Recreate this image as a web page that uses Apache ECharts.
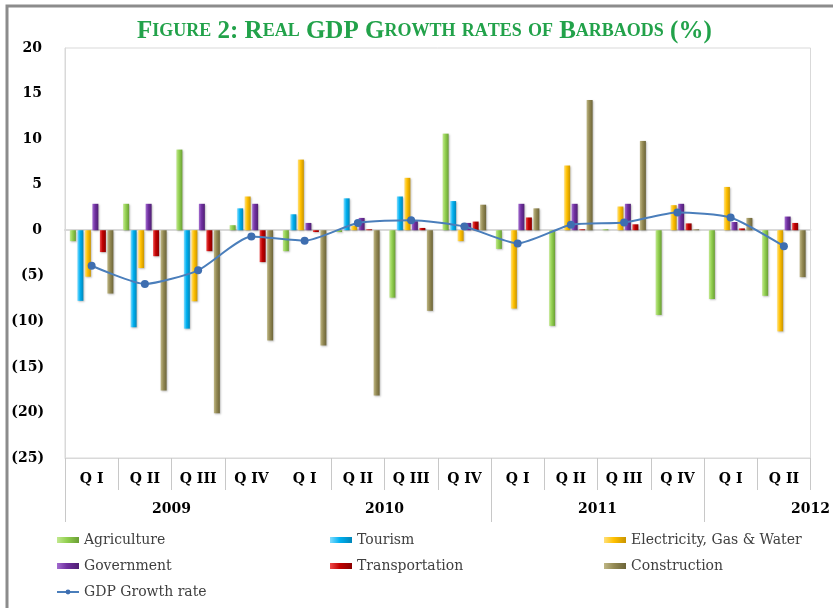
<!DOCTYPE html>
<html>
<head>
<meta charset="utf-8">
<script src="https://cdn.jsdelivr.net/npm/echarts@6/dist/echarts.min.js"></script>
<style>
html,body{margin:0;padding:0;background:#fff;}
#main{width:833px;height:608px;}
</style>
</head>
<body>
<div id="main"></div>
<script>
// 数据
var quarters = ['Q I', 'Q II', 'Q III', 'Q IV', 'Q I', 'Q II', 'Q III', 'Q IV', 'Q I', 'Q II', 'Q III', 'Q IV', 'Q I', 'Q II'];
var years = ['2009', '2010', '2011', '2012'];
var yTicks = [20, 15, 10, 5, 0, -5, -10, -15, -20, -25];

var agriculture = [-1.2, 2.9, 8.85, 0.55, -2.3, -0.2, -7.4, 10.6, -2.05, -10.5, 0.1, -9.3, -7.55, -7.2];
var tourism = [-7.75, -10.65, -10.8, 2.4, 1.75, 3.5, 3.7, 3.2, 0, 0, 0, 0, 0, 0];
var electricity = [-5.1, -4.15, -7.8, 3.7, 7.75, 0.5, 5.75, -1.2, -8.6, 7.1, 2.6, 2.75, 4.75, -11.1];
var government = [2.9, 2.9, 2.9, 2.9, 0.8, 1.35, 1.0, 0.8, 2.9, 2.9, 2.9, 2.9, 0.9, 1.5];
var transportation = [-2.4, -2.85, -2.3, -3.5, -0.2, 0.1, 0.25, 0.95, 1.4, 0.1, 0.65, 0.75, 0.2, 0.8];
var construction = [-6.95, -17.6, -20.1, -12.1, -12.65, -18.15, -8.85, 2.8, 2.4, 14.3, 9.8, 0.1, 1.35, -5.15];
var gdp = [-3.9, -5.9, -4.4, -0.7, -1.15, 0.8, 1.1, 0.4, -1.45, 0.6, 0.85, 1.95, 1.4, -1.75];

(function(){
    var myChart = echarts.init(document.getElementById('main'));

    // 边界轴：15个季度边界点，年份标签放在每年中间
    var yearAxis = [];
    for (var i = 0; i <= quarters.length; i++) {
        yearAxis.push(i % 4 === 2 ? years[(i - 2) / 4] : '');
    }

    // 标题的小型大写字母
    var titleText = 'Figure 2: Real GDP Growth rates of Barbaods (%)';
    var titleRich = '';
    for (var k = 0; k < titleText.length; k++) {
        var c = titleText[k];
        if (c >= 'a' && c <= 'z') {
            titleRich += '{s|' + c.toUpperCase() + '}';
        } else {
            titleRich += '{b|' + c + '}';
        }
    }

    // 柱子渐变，模拟立体效果
    function barColor(light, mid, dark) {
        return new echarts.graphic.LinearGradient(0, 0, 1, 0, [
            { offset: 0, color: light },
            { offset: 0.45, color: mid },
            { offset: 1, color: dark }
        ]);
    }

    function barSeries(name, data, light, mid, dark) {
        return {
            name: name,
            type: 'bar',
            data: data,
            barWidth: 6,
            barGap: '25%',
            itemStyle: {
                color: barColor(light, mid, dark),
                shadowColor: 'rgba(0,0,0,0.25)',
                shadowBlur: 2,
                shadowOffsetX: 1,
                shadowOffsetY: 1
            }
        };
    }

    var serif = 'DejaVu Serif';
    var labelFont = {
        fontFamily: serif,
        fontWeight: 'bold',
        fontSize: 14,
        color: '#000'
    };
    var legendText = {
        fontFamily: serif,
        fontSize: 14,
        color: '#404040'
    };

    function legendCol(left, names) {
        return {
            orient: 'vertical',
            left: left,
            top: 533,
            padding: 0,
            itemWidth: 22,
            itemHeight: 6,
            itemGap: 12,
            textStyle: legendText,
            data: names
        };
    }

    var option = {
        animation: false,
        graphic: [
            {
                type: 'rect',
                shape: { x: 7, y: 6, width: 900, height: 700 },
                style: { fill: 'none', stroke: '#8c8c8c', lineWidth: 3 },
                silent: true
            },
            {
                type: 'text',
                left: 137,
                top: 19,
                style: {
                    text: titleRich,
                    rich: {
                        b: { fontFamily: 'Liberation Serif', fontWeight: 'bold', fontSize: 25, fill: '#22a24a' },
                        s: { fontFamily: 'Liberation Serif', fontWeight: 'bold', fontSize: 18, fill: '#22a24a' }
                    }
                }
            }
        ],
        legend: [
            legendCol(56, [
                { name: 'Agriculture', icon: 'rect' },
                { name: 'Government', icon: 'rect' },
                { name: 'GDP Growth rate' }
            ]),
            legendCol(330, [
                { name: 'Tourism', icon: 'rect' },
                { name: 'Transportation', icon: 'rect' }
            ]),
            legendCol(604, [
                { name: 'Electricity, Gas & Water', icon: 'rect' },
                { name: 'Construction', icon: 'rect' }
            ])
        ],
        grid: {
            left: 65,
            right: 15,
            top: 48,
            bottom: 150,
            show: true,
            borderColor: '#d9d9d9',
            borderWidth: 1
        },
        xAxis: [
            {
                // 季度标签
                type: 'category',
                data: quarters,
                position: 'bottom',
                axisLine: { onZero: false, lineStyle: { color: '#d9d9d9' } },
                axisTick: { show: false },
                axisLabel: Object.assign({ interval: 0, margin: 14 }, labelFont)
            },
            {
                // 年份标签
                type: 'category',
                data: yearAxis,
                boundaryGap: false,
                position: 'bottom',
                offset: 32,
                axisLine: { show: false, onZero: false },
                axisTick: {
                    length: 32,
                    interval: function (index) { return index === 0 || index === 8 || index === 12; },
                    lineStyle: { color: '#c8c8c8' }
                },
                axisLabel: Object.assign({
                    interval: function (index) { return index % 4 === 2; },
                    margin: 12
                }, labelFont)
            },
            {
                // 零线
                type: 'category',
                data: quarters,
                position: 'bottom',
                axisLine: { onZero: true, lineStyle: { color: '#d9d9d9', width: 2 } },
                axisTick: { length: 4, lineStyle: { color: '#bfbfbf' } },
                axisLabel: { show: false }
            },
            {
                // 季度分隔线
                type: 'category',
                data: yearAxis,
                boundaryGap: false,
                position: 'bottom',
                axisLine: { show: false, onZero: false },
                axisTick: {
                    length: 32,
                    interval: function (index) { return index !== 4; },
                    lineStyle: { color: '#c8c8c8' }
                },
                axisLabel: { show: false }
            }
        ],
        yAxis: {
            type: 'value',
            min: yTicks[yTicks.length - 1],
            max: yTicks[0],
            interval: 5,
            axisLine: { show: true, lineStyle: { color: '#d9d9d9' } },
            axisTick: { show: false },
            splitLine: { show: false },
            axisLabel: Object.assign({
                align: 'right',
                margin: 21,
                formatter: function (v) {
                    return v < 0 ? '(' + (-v) + ')' : '{p|' + v + '}';
                },
                rich: {
                    p: Object.assign({ padding: [0, 2, 0, 0] }, labelFont)
                }
            }, labelFont)
        },
        series: [
            barSeries('Agriculture', agriculture, '#c2e88f', '#92d050', '#6a9e34'),
            barSeries('Tourism', tourism, '#7fdcff', '#00b0f0', '#0085b8'),
            barSeries('Electricity, Gas & Water', electricity, '#ffe07a', '#ffc000', '#c99400'),
            barSeries('Government', government, '#a36cd0', '#7030a0', '#4f1f73'),
            barSeries('Transportation', transportation, '#ef4a4a', '#c00000', '#8a0000'),
            barSeries('Construction', construction, '#bfb785', '#948a54', '#6c6438'),
            {
                name: 'GDP Growth rate',
                type: 'line',
                data: gdp,
                smooth: 0.2,
                symbol: 'circle',
                symbolSize: 8,
                z: 5,
                lineStyle: { color: '#4a7ebb', width: 2 },
                itemStyle: { color: '#3e6eb0' }
            }
        ]
    };
    myChart.setOption(option);
    window.addEventListener('resize', function () {
        myChart.resize();
    });
})();
</script>
</body>
</html>
